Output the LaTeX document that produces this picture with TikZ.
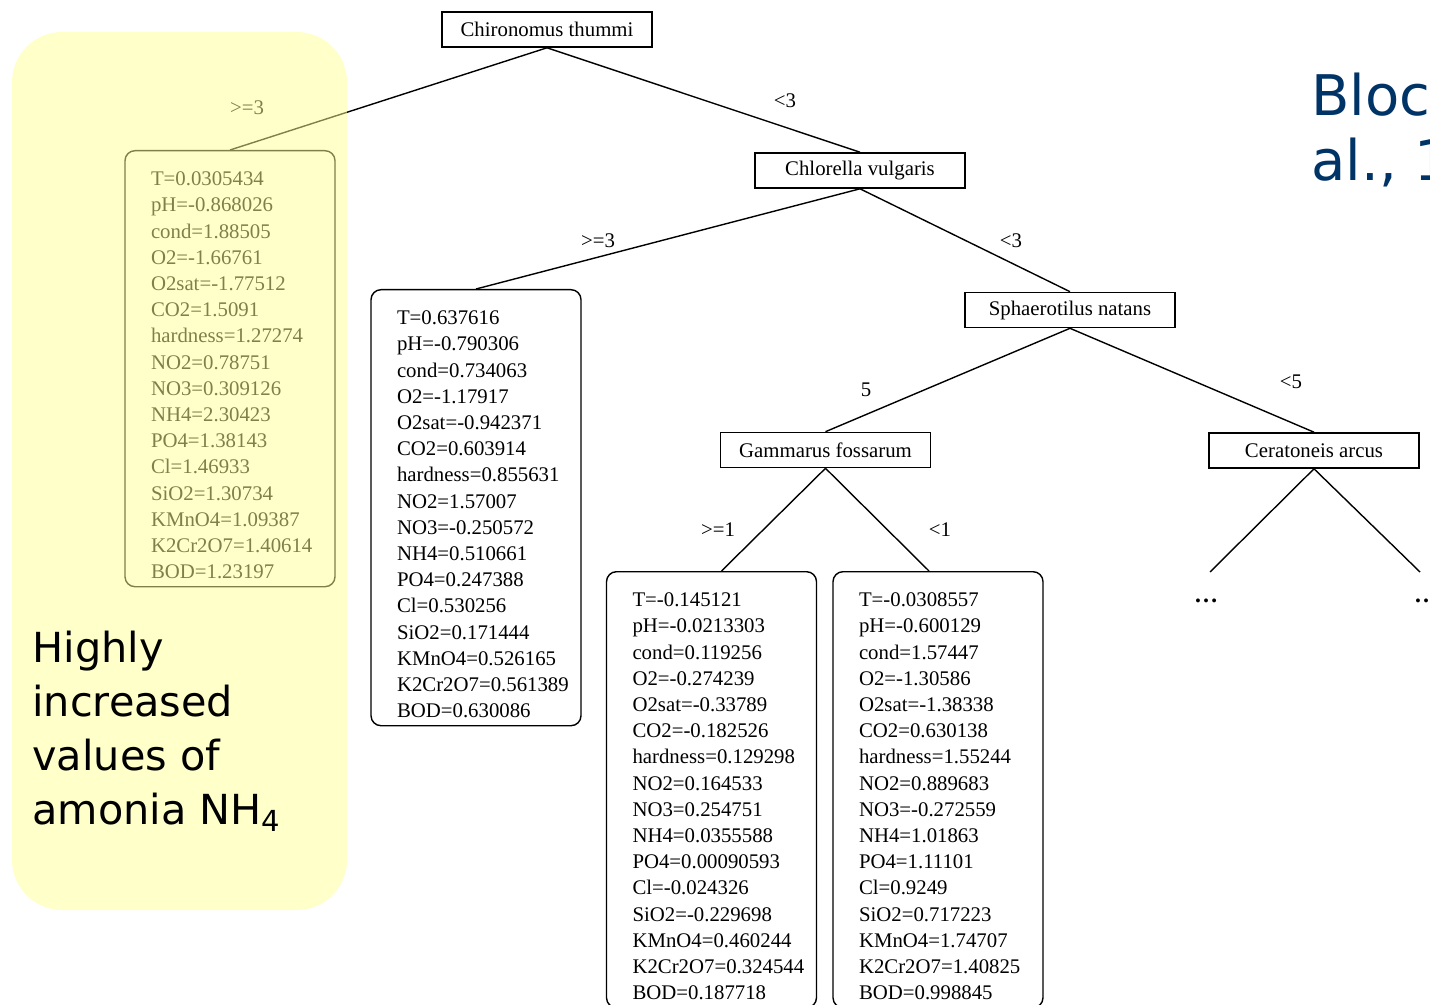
\documentclass[tikz,border=0pt]{standalone}
\usepackage{fontspec}
\setmainfont{Liberation Serif}
\newfontfamily\slidefont{DejaVu Sans}
\usetikzlibrary{calc}
\definecolor{hiyellow}{RGB}{255,255,150}
\definecolor{refblue}{RGB}{0,51,102}

\begin{document}
\begin{tikzpicture}[
    x=0.5pt, y=-0.5pt,
    font=\fontsize{10.4}{13.1}\selectfont,
    species/.style={rectangle, draw, line width=0.8pt, minimum width=105pt, minimum height=17.5pt, inner sep=0pt},
    leaf/.style={rectangle, draw, line width=0.7pt, rounded corners=5pt, anchor=north, align=left, text width=79pt, inner xsep=13pt, inner ysep=0pt, text height=17.5pt, text depth=200.5pt},
    cond/.style={inner sep=1pt},
    branch/.style={line width=0.7pt}
]
\useasboundingbox (0,0) rectangle (1430,1005);
\clip (0,0) rectangle (1430,1005);

% Inner nodes of the tree
\node[species] (chir) at (547,29.5) {Chironomus thummi};
\node[species] (chlor) at (860,170.5) {Chlorella vulgaris};
\node[species] (sphaer) at (1070,310) {Sphaerotilus natans};
\node[species] (gamm) at (825.5,450) {Gammarus fossarum};
\node[species] (cerat) at (1314,450.5) {Ceratoneis arcus};

% Leaves
\node[leaf] (leafA) at (230,150) {T=0.0305434\\pH=-0.868026\\cond=1.88505\\O2=-1.66761\\O2sat=-1.77512\\CO2=1.5091\\hardness=1.27274\\NO2=0.78751\\NO3=0.309126\\NH4=2.30423\\PO4=1.38143\\Cl=1.46933\\SiO2=1.30734\\KMnO4=1.09387\\K2Cr2O7=1.40614\\BOD=1.23197};
\node[leaf] (leafB) at (476,289) {T=0.637616\\pH=-0.790306\\cond=0.734063\\O2=-1.17917\\O2sat=-0.942371\\CO2=0.603914\\hardness=0.855631\\NO2=1.57007\\NO3=-0.250572\\NH4=0.510661\\PO4=0.247388\\Cl=0.530256\\SiO2=0.171444\\KMnO4=0.526165\\K2Cr2O7=0.561389\\BOD=0.630086};
\node[leaf] (leafC) at (711.5,571) {T=-0.145121\\pH=-0.0213303\\cond=0.119256\\O2=-0.274239\\O2sat=-0.33789\\CO2=-0.182526\\hardness=0.129298\\NO2=0.164533\\NO3=0.254751\\NH4=0.0355588\\PO4=0.00090593\\Cl=-0.024326\\SiO2=-0.229698\\KMnO4=0.460244\\K2Cr2O7=0.324544\\BOD=0.187718};
\node[leaf] (leafD) at (938,571) {T=-0.0308557\\pH=-0.600129\\cond=1.57447\\O2=-1.30586\\O2sat=-1.38338\\CO2=0.630138\\hardness=1.55244\\NO2=0.889683\\NO3=-0.272559\\NH4=1.01863\\PO4=1.11101\\Cl=0.9249\\SiO2=0.717223\\KMnO4=1.74707\\K2Cr2O7=1.40825\\BOD=0.998845};

% Unexpanded subtrees
\coordinate (cutL) at (1210,572);
\coordinate (cutR) at (1420,572);
\node[font=\fontsize{12}{14}\bfseries] (dotsL) at (1206,601) {\dots};
\node[font=\fontsize{12}{14}\bfseries] (dotsR) at (1426,601) {\dots};

% Branches
\draw[branch] (chir.south) -- (leafA.north);
\draw[branch] (chir.south) -- (chlor.north);
\draw[branch] (chlor.south) -- (leafB.north);
\draw[branch] (chlor.south) -- (sphaer.north);
\draw[branch] (sphaer.south) -- (gamm.north);
\draw[branch] (sphaer.south) -- (cerat.north);
\draw[branch] (gamm.south) -- ([xshift=5pt]leafC.north);
\draw[branch] (gamm.south) -- ([xshift=-4.5pt]leafD.north);
\draw[branch] (cerat.south) -- (cutL);
\draw[branch] (cerat.south) -- (cutR);

% Split conditions
\node[cond] (c1) at (247,108) {>=3};
\node[cond] (c2) at (785,101) {<3};
\node[cond] (c3) at (598,241) {>=3};
\node[cond] (c4) at (1011,241) {<3};
\node[cond] (c5) at (866,390) {5};
\node[cond] (c6) at (1291,382) {<5};
\node[cond] (c7) at (718,530) {>=1};
\node[cond] (c8) at (940,530) {<1};

% Highlight
\fill[hiyellow, fill opacity=0.5, rounded corners=25pt] (12,32) rectangle (347,910);
\node[anchor=north west, align=left, inner sep=0pt, font=\slidefont\fontsize{20.7}{27}\selectfont] (note) at (32,631) {Highly\\increased\\values of\\amonia NH\textsubscript{4}};

% Reference
\node[anchor=north west, align=left, inner sep=0pt, text=refblue, font=\slidefont\fontsize{28}{32.5}\selectfont] (cite) at (1311,73) {Blockeel et\\al., 1999};
\end{tikzpicture}
\end{document}
